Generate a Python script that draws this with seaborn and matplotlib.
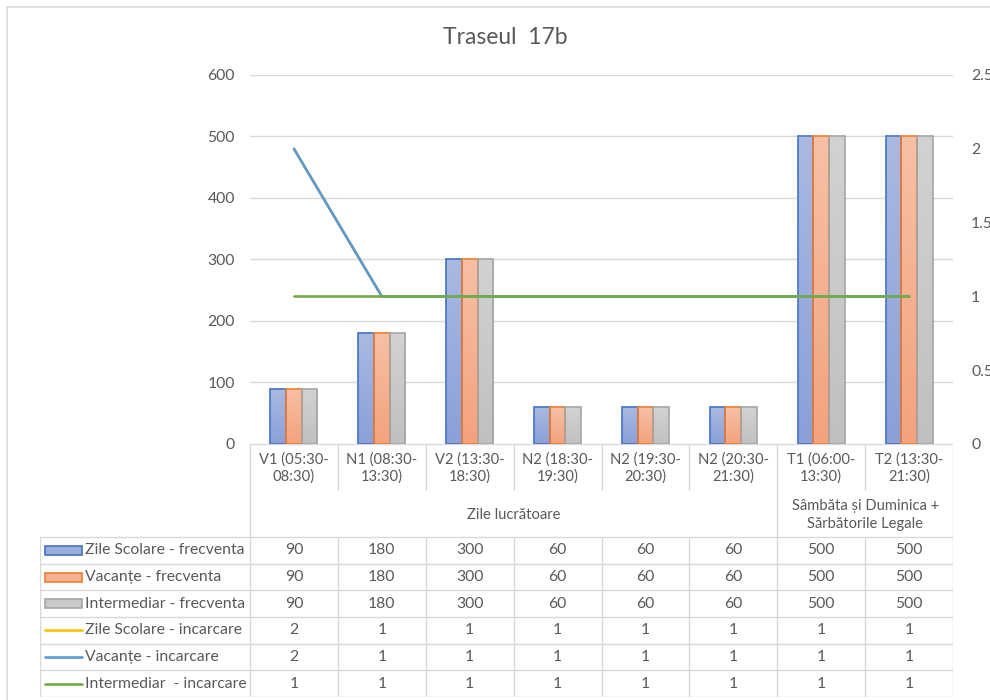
import matplotlib
matplotlib.use("Agg")
import matplotlib.pyplot as plt
import seaborn as sns
import numpy as np
import pandas as pd
from matplotlib.patches import Rectangle
from matplotlib.lines import Line2D
from matplotlib.colors import to_rgb

# Data
categories = ["V1 (05:30-\n08:30)", "N1 (08:30-\n13:30)", "V2 (13:30-\n18:30)",
              "N2 (18:30-\n19:30)", "N2 (19:30-\n20:30)", "N2 (20:30-\n21:30)",
              "T1 (06:00-\n13:30)", "T2 (13:30-\n21:30)"]
groups = ["Zile lucrătoare", "Sâmbăta și Duminica +\nSărbătorile Legale"]
group_sizes = [6, 2]

bar_series = ["Zile Scolare - frecventa", "Vacanțe - frecventa", "Intermediar - frecventa"]
zile_frecv = [90, 180, 300, 60, 60, 60, 500, 500]
vac_frecv = [90, 180, 300, 60, 60, 60, 500, 500]
inter_frecv = [90, 180, 300, 60, 60, 60, 500, 500]

line_series = ["Zile Scolare - incarcare", "Vacanțe - incarcare", "Intermediar  - incarcare"]
zile_inc = [2, 1, 1, 1, 1, 1, 1, 1]
vac_inc = [2, 1, 1, 1, 1, 1, 1, 1]
inter_inc = [1, 1, 1, 1, 1, 1, 1, 1]

left_ticks = [0, 100, 200, 300, 400, 500, 600]
right_ticks = [0, 0.5, 1, 1.5, 2, 2.5]

# Style
bar_fill = ["#9CAEDD", "#F5B191", "#C9C9C9"]
grad_top = ["#AAB9E2", "#F7C0A4", "#D2D2D2"]
grad_bot = ["#8BA0D8", "#F4A27E", "#C0C0C0"]
bar_edge = ["#4472C4", "#ED7D31", "#A5A5A5"]
line_colors = ["#FFC000", "#5B9BD5", "#70AD47"]
grid_c = "#D9D9D9"
txt_c = "#595959"
fs = 11.3
fs_cat = 10.6

sns.set_style("white")
plt.rcParams["font.family"] = ["Lato", "DejaVu Sans"]

W, H = 990, 700
fig = plt.figure(figsize=(W / 100, H / 100), dpi=100)

# plot area in pixels
px_l, px_r, px_t, px_b = 250, 953, 75, 444
ax = fig.add_axes([px_l / W, 1 - px_b / H, (px_r - px_l) / W, (px_b - px_t) / H])

bars = pd.DataFrame({
    "cat": categories * 3,
    "val": zile_frecv + vac_frecv + inter_frecv,
    "series": [s for s in bar_series for _ in categories],
})
sns.barplot(data=bars, x="cat", y="val", hue="series", hue_order=bar_series,
            palette=bar_fill, width=0.535, gap=0, saturation=1, legend=False,
            linewidth=1.2, ax=ax)

ax.set_ylim(0, 600)
ax.set_xlim(-0.5, len(categories) - 0.5)

# gradient fill like the Excel bars
for cont, ec, c0, c1 in zip(ax.containers, bar_edge, grad_top, grad_bot):
    grad = np.linspace(np.array(to_rgb(c0)), np.array(to_rgb(c1)), 64)[:, None, :]
    for p in cont:
        p.set_edgecolor(ec)
        p.set_facecolor("none")
        p.set_zorder(2)
        x0, y0 = p.get_x(), p.get_y()
        im = ax.imshow(grad, extent=[x0, x0 + p.get_width(), y0, y0 + p.get_height()],
                       aspect="auto", origin="upper", zorder=1.5, interpolation="bilinear")
        im.set_clip_path(p)
ax.set_ylim(0, 600)
ax.set_xlim(-0.5, len(categories) - 0.5)

ax.set_yticks(left_ticks)
ax.yaxis.grid(True, color=grid_c, lw=1)
ax.set_axisbelow(True)
ax.tick_params(axis="y", length=0, pad=11, labelsize=fs, labelcolor=txt_c)
ax.tick_params(axis="x", length=0, labelbottom=False)
ax.set_xlabel("")
ax.set_ylabel("")
for s in ax.spines.values():
    s.set_visible(False)

ax2 = ax.twinx()
x_idx = np.arange(len(categories))
lines = pd.DataFrame({
    "pos": np.tile(x_idx, 3),
    "val": zile_inc + vac_inc + inter_inc,
    "series": [s for s in line_series for _ in categories],
})
sns.lineplot(data=lines, x="pos", y="val", hue="series", hue_order=line_series,
             palette=line_colors, lw=1.9, legend=False, ax=ax2)
ax2.set_ylim(0, 2.5)
ax2.set_xlim(-0.5, len(categories) - 0.5)
ax2.set_yticks(right_ticks)
ax2.set_yticklabels([f"{t:g}" for t in right_ticks])
ax2.tick_params(axis="y", length=0, pad=13, labelsize=fs, labelcolor=txt_c)
ax2.set_xlabel("")
ax2.set_ylabel("")
ax2.grid(False)
for s in ax2.spines.values():
    s.set_visible(False)

# Title
fig.text(505 / W, 1 - 38 / H, "Traseul  17b", ha="center", va="center",
         fontsize=16.5, color=txt_c)

# Data table below the chart
tb_l, tb_b = 40, 697
ncat = len(categories)
colw = (px_r - px_l) / ncat
L = -0.5 - (px_l - tb_l) / colw
at = fig.add_axes([tb_l / W, 1 - tb_b / H, (px_r - tb_l) / W, (tb_b - px_b) / H])
at.set_xlim(L, ncat - 0.5)
at.set_ylim(tb_b - px_b, 0)
at.axis("off")

tick_h, grp_h = 46, 93
row_h = (tb_b - px_b - grp_h) / 6
lk = dict(color=grid_c, lw=1, solid_capstyle="butt")

at.plot([-0.5, ncat - 0.5], [0, 0], **lk)
for i in range(ncat + 1):
    xv = i - 0.5
    full = i in (0, ncat) or i in np.cumsum(group_sizes)
    at.plot([xv, xv], [0, tb_b - px_b] if full else [0, tick_h], **lk)
    if not full:
        at.plot([xv, xv], [grp_h, tb_b - px_b], **lk)
at.plot([L, L], [grp_h, tb_b - px_b], **lk)
for k in range(7):
    yy = grp_h + k * row_h
    at.plot([L, ncat - 0.5], [yy, yy], **lk)

for i, c in enumerate(categories):
    at.text(i, 24, c, ha="center", va="center", fontsize=fs_cat, color=txt_c,
            linespacing=1.3)
start = 0
for g, n in zip(groups, group_sizes):
    at.text(start + (n - 1) / 2, 71, g, ha="center", va="center", fontsize=fs_cat,
            color=txt_c, linespacing=1.3)
    start += n

rows = [(bar_series[0], zile_frecv, "bar", 0), (bar_series[1], vac_frecv, "bar", 1),
        (bar_series[2], inter_frecv, "bar", 2), (line_series[0], zile_inc, "line", 0),
        (line_series[1], vac_inc, "line", 1), (line_series[2], inter_inc, "line", 2)]
sw_x0 = L + 5 / colw
sw_w = 37 / colw
for k, (name, vals, kind, ci) in enumerate(rows):
    yc = grp_h + (k + 0.5) * row_h
    if kind == "bar":
        at.add_patch(Rectangle((sw_x0, yc - 4.5), sw_w, 9, facecolor=bar_fill[ci],
                               edgecolor=bar_edge[ci], lw=1.2))
    else:
        at.add_line(Line2D([sw_x0, sw_x0 + sw_w], [yc, yc], color=line_colors[ci], lw=1.9))
    at.text(sw_x0 + sw_w + 3 / colw, yc, name, ha="left", va="center", fontsize=fs,
            color=txt_c)
    for i, v in enumerate(vals):
        at.text(i, yc, f"{v:g}", ha="center", va="center", fontsize=fs, color=txt_c)

# chart border
fig.patches.append(Rectangle((7 / W, -0.05), 1.2, 1 - 7 / H + 0.05,
                             transform=fig.transFigure, fill=False,
                             edgecolor=grid_c, lw=1.2))

fig.savefig("out.png", dpi=100)
